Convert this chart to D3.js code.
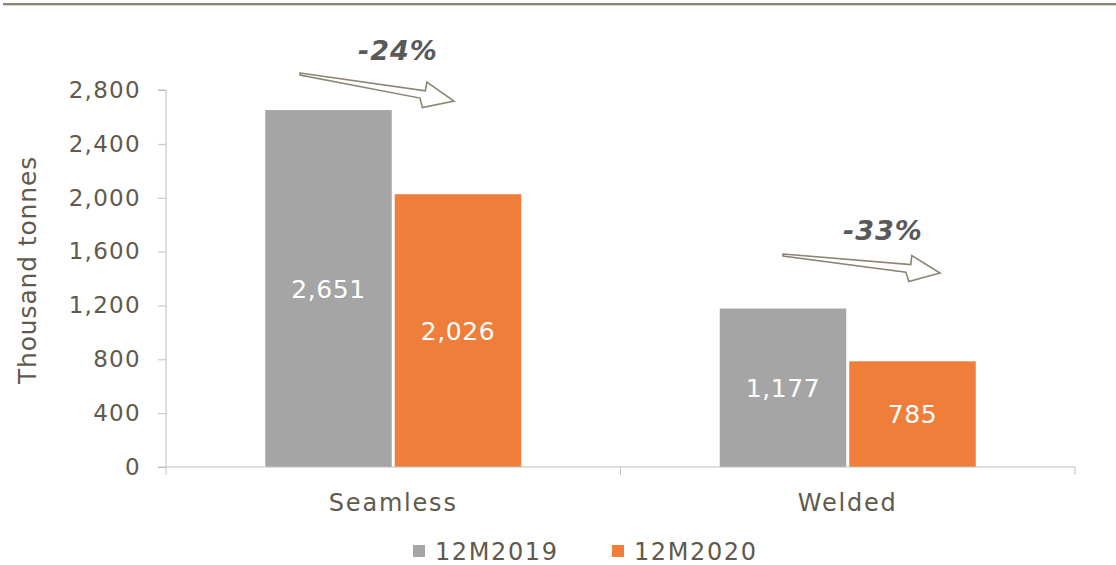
<!DOCTYPE html>
<html>
<head>
<meta charset="utf-8">
<script src="https://cdn.jsdelivr.net/npm/d3@7"></script>
<style>
  html, body { margin: 0; padding: 0; background: #ffffff; }
  svg { display: block; }
  text { font-family: "DejaVu Sans", Verdana, sans-serif; }
</style>
</head>
<body>
<svg id="chart" width="1116" height="565"></svg>
<script>
// Pipe shipments by type, thousand tonnes
const categories = ["Seamless", "Welded"];
const seriesNames = ["12M2019", "12M2020"];
const values2019 = [2651, 1177];
const values2020 = [2026, 785];
const changeLabels = ["-24%", "-33%"];
const yTicks = [0, 400, 800, 1200, 1600, 2000, 2400, 2800];

const colors = ["#a5a5a5", "#f07e3b"];
const textColor = "#5f5a4c";
const axisColor = "#bfbfbf";

const svg = d3.select("#chart");

// Rule across the top of the page
svg.append("line")
  .attr("x1", 3).attr("x2", 1116).attr("y1", 4).attr("y2", 4)
  .attr("stroke", "#8c8571").attr("stroke-width", 2);
svg.append("line")
  .attr("x1", 3).attr("x2", 1116).attr("y1", 5.5).attr("y2", 5.5)
  .attr("stroke", "#d8d4c8").attr("stroke-width", 1);

const plot = { left: 166, right: 1075, top: 90, bottom: 467 };

const x = d3.scaleBand()
  .domain(categories)
  .range([plot.left, plot.right])
  .paddingInner(0).paddingOuter(0);

const y = d3.scaleLinear()
  .domain([0, 2800])
  .range([plot.bottom, plot.top]);

// bar group geometry within a category
const groupWidth = 256;
const barGap = 3;
const barW = (groupWidth - barGap) / 2;
function barX(cat, si) {
  const c = x(cat) + x.bandwidth() / 2;
  return c - groupWidth / 2 + si * (barW + barGap);
}

const rows = categories.map((c, i) => ({ cat: c, vals: [values2019[i], values2020[i]] }));

// Bars with value labels
rows.forEach(r => {
  r.vals.forEach((v, si) => {
    svg.append("rect")
      .attr("x", barX(r.cat, si))
      .attr("y", y(v))
      .attr("width", barW)
      .attr("height", y(0) - y(v))
      .attr("fill", colors[si]);
    svg.append("text")
      .attr("x", barX(r.cat, si) + barW / 2)
      .attr("y", (y(v) + y(0)) / 2)
      .attr("dy", "0.36em")
      .attr("text-anchor", "middle")
      .attr("fill", "#ffffff")
      .attr("font-size", 25)
      .attr("letter-spacing", 0.6)
      .text(d3.format(",")(v));
  });
});

// Y axis
const yAxis = d3.axisLeft(y)
  .tickValues(yTicks)
  .tickFormat(d3.format(","))
  .tickSize(8)
  .tickPadding(17);
const gy = svg.append("g")
  .attr("transform", `translate(${plot.left},0)`)
  .call(yAxis);
gy.select(".domain").attr("stroke", axisColor).attr("d", `M-8,${plot.top}H0V${plot.bottom}`);
gy.selectAll(".tick line").attr("stroke", axisColor);
gy.selectAll(".tick text")
  .attr("fill", textColor)
  .attr("font-size", 23)
  .attr("letter-spacing", 1.3)
  .attr("font-family", "DejaVu Sans, Verdana, sans-serif");

// X axis
const xAxis = d3.axisBottom(x).tickSize(0).tickPadding(27);
const gx = svg.append("g")
  .attr("transform", `translate(0,${plot.bottom})`)
  .call(xAxis);
gx.select(".domain").attr("stroke", axisColor).attr("d", `M${plot.left - 8},0H${plot.right}`);
gx.selectAll(".tick text")
  .attr("fill", textColor)
  .attr("font-size", 24)
  .attr("letter-spacing", 1.8)
  .attr("font-family", "DejaVu Sans, Verdana, sans-serif");
// Category separators
const seps = [plot.left].concat(categories.map(c => x(c) + x.bandwidth()));
gx.selectAll(".sep").data(seps).enter().append("line")
  .attr("x1", d => d).attr("x2", d => d)
  .attr("y1", 0).attr("y2", 8)
  .attr("stroke", axisColor);

// Y axis title
svg.append("text")
  .attr("transform", `translate(36,270) rotate(-90)`)
  .attr("text-anchor", "middle")
  .attr("fill", textColor)
  .attr("font-size", 25)
  .attr("letter-spacing", 0.85)
  .text("Thousand tonnes");

// Change annotations: hollow arrows with percentage labels
const arrowSpecs = [
  { tail: [300, 74], len: 154, drop: 27, label: [398, 50] },
  { tail: [783, 255], len: 157, drop: 18, label: [883, 230] }
];
arrowSpecs.forEach((a, i) => {
  const [tx, ty] = a.tail;
  const tipX = tx + a.len, tipY = ty + a.drop;
  const ang = Math.atan2(a.drop, a.len);
  const ux = Math.cos(ang), uy = Math.sin(ang);
  const nx = -uy, ny = ux;
  const headLen = 30;
  const bx = tipX - ux * headLen, by = tipY - uy * headLen;
  const pts = [
    [tx, ty - 1],
    [bx + nx * -5, by + ny * -5],
    [bx + nx * -14, by + ny * -14],
    [tipX, tipY],
    [bx + nx * 12, by + ny * 12],
    [bx + nx * 3 - ux * 4, by + ny * 3 - uy * 4],
    [tx, ty + 1]
  ];
  svg.append("path")
    .attr("d", d3.line()(pts) + "Z")
    .attr("fill", "#ffffff")
    .attr("stroke", "#8c8571")
    .attr("stroke-width", 1.6)
    .attr("stroke-linejoin", "miter");
  svg.append("text")
    .attr("x", a.label[0])
    .attr("y", a.label[1])
    .attr("dy", "0.36em")
    .attr("text-anchor", "middle")
    .attr("fill", "#595959")
    .attr("font-size", 27)
    .attr("letter-spacing", 1)
    .attr("font-weight", "bold")
    .attr("font-style", "italic")
    .text(changeLabels[i]);
});

// Legend
const legendItems = [
  { name: seriesNames[0], color: colors[0], x: 413 },
  { name: seriesNames[1], color: colors[1], x: 612 }
];
legendItems.forEach(l => {
  svg.append("rect")
    .attr("x", l.x).attr("y", 545)
    .attr("width", 12).attr("height", 12)
    .attr("fill", l.color);
  svg.append("text")
    .attr("x", l.x + 22).attr("y", 551)
    .attr("dy", "0.36em")
    .attr("fill", textColor)
    .attr("font-size", 24)
    .attr("letter-spacing", 1.6)
    .text(l.name);
});
</script>
</body>
</html>
